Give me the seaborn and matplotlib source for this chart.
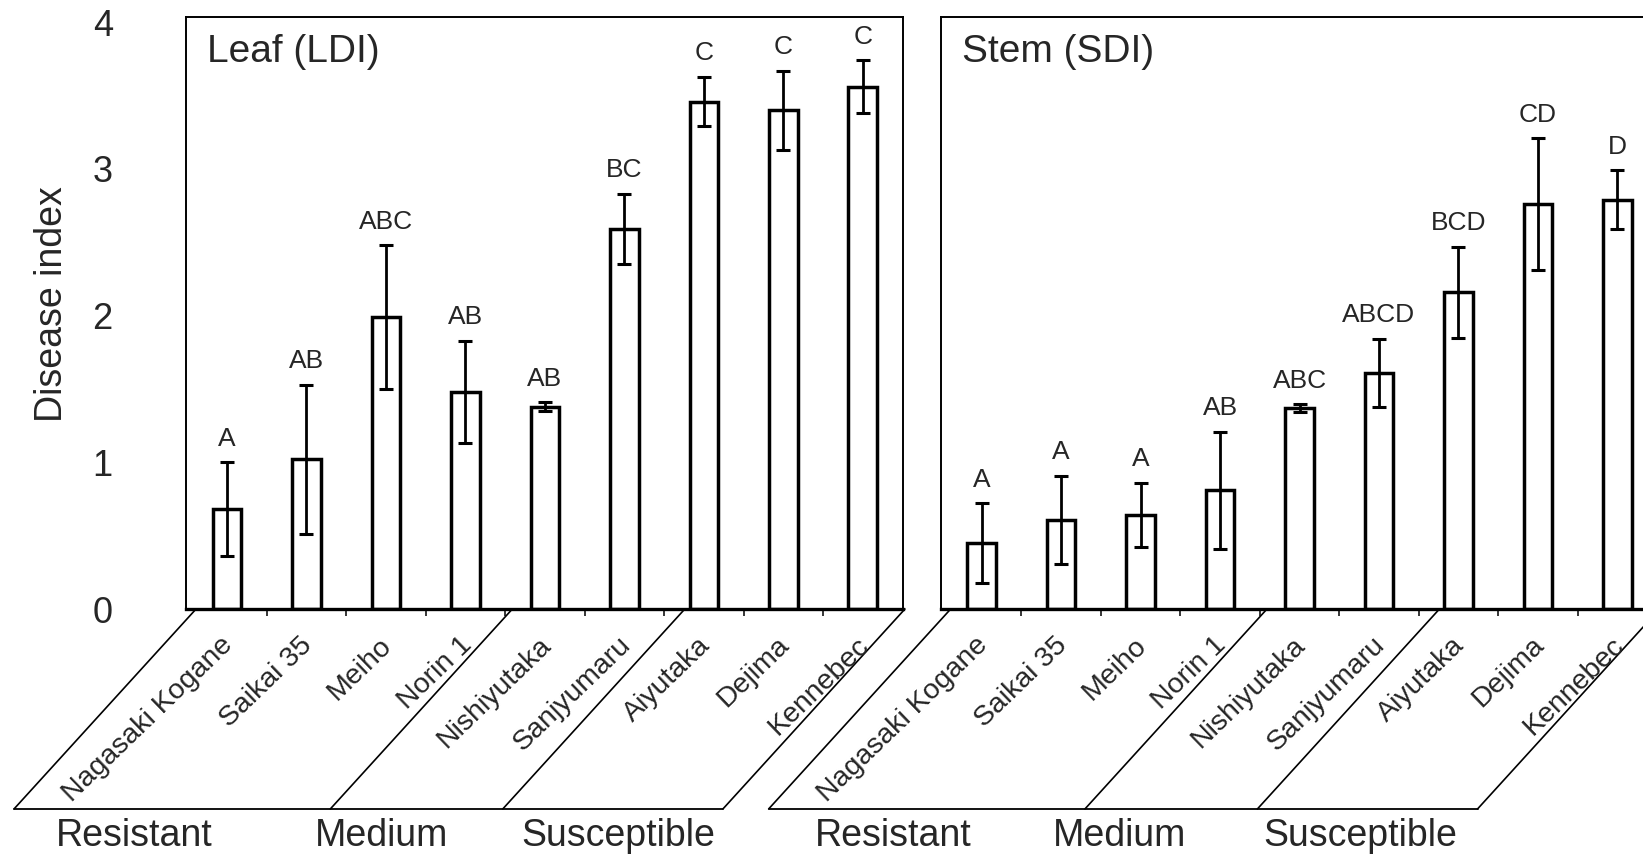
import matplotlib
matplotlib.use("Agg")
import matplotlib.pyplot as plt
import seaborn as sns
import pandas as pd
import numpy as np

# ---- data ----
cultivars = ["Nagasaki Kogane", "Saikai 35", "Meiho", "Norin 1", "Nishiyutaka",
             "Sanjyumaru", "Aiyutaka", "Dejima", "Kennebec"]
leaf_values = [0.68, 1.02, 1.99, 1.48, 1.38, 2.59, 3.46, 3.40, 3.56]
leaf_errors = [0.32, 0.51, 0.49, 0.35, 0.03, 0.24, 0.17, 0.27, 0.18]
leaf_letters = ["A", "AB", "ABC", "AB", "AB", "BC", "C", "C", "C"]
stem_values = [0.45, 0.61, 0.64, 0.81, 1.37, 1.61, 2.16, 2.76, 2.79]
stem_errors = [0.27, 0.30, 0.22, 0.40, 0.025, 0.23, 0.31, 0.45, 0.20]
stem_letters = ["A", "A", "A", "AB", "ABC", "ABCD", "BCD", "CD", "D"]
group_names = ["Resistant", "Medium", "Susceptible"]
panel_titles = ["Leaf (LDI)", "Stem (SDI)"]
y_ticks = [0, 1, 2, 3, 4]
y_label = "Disease index"

sns.set_theme(style="white")
plt.rcParams['font.family'] = ['Liberation Sans', 'DejaVu Sans']

W, H = 1643, 859
fig = plt.figure(figsize=(W / 100, H / 100), dpi=100)

ax_w = 0.4363
ax_b = 0.291
ax_h = 0.980 - ax_b
axes = [fig.add_axes([0.1135, ax_b, ax_w, ax_h]),
        fig.add_axes([0.5728, ax_b, ax_w, ax_h])]

XL = (-0.51, 8.51)
SEP_X = [-0.39, 3.59, 5.76, 8.53]   # where the slanted separators meet the axis
DX, DY = 2.29, 1.363                # slant of separators (data units)
group_label_x = [[-1.17, 1.95, 4.92], [-1.11, 1.73, 4.76]]

panels = [(leaf_values, leaf_errors, leaf_letters), (stem_values, stem_errors, stem_letters)]
for k, (ax, (vals, errs, letters)) in enumerate(zip(axes, panels)):
    df = pd.DataFrame({"cultivar": cultivars, "value": vals})
    sns.barplot(data=df, x="cultivar", y="value", order=cultivars, ax=ax,
                color="white", saturation=1, edgecolor="black", linewidth=2.5,
                width=0.36, errorbar=None)
    xs = np.arange(len(cultivars))
    ax.errorbar(xs, vals, yerr=errs, fmt="none", ecolor="black",
                elinewidth=2.0, capsize=5, capthick=2.2, zorder=5)
    for x, v, e, t in zip(xs, vals, errs, letters):
        ax.annotate(t, (x, v + e), xytext=(0, 12), textcoords="offset points",
                    ha="center", va="baseline", fontsize=19)
    ax.set_xlim(*XL)
    ax.set_ylim(0, 4.035)
    ax.set_xlabel("")
    ax.set_ylabel("")
    ax.set_yticks(y_ticks)
    if k == 0:
        ax.set_yticklabels([str(t) for t in y_ticks], fontsize=26)
        ax.tick_params(axis="y", pad=53, length=0)
    else:
        ax.set_yticklabels([])
        ax.tick_params(axis="y", length=0)
    ax.set_xticks(xs)
    ax.set_xticklabels([])
    ax.tick_params(axis="x", which="major", length=0)
    ax.set_xticks(xs[:-1] + 0.5, minor=True)
    ax.tick_params(axis="x", which="minor", direction="out", length=5, width=1.1,
                   color="black", bottom=True)
    for s in ax.spines.values():
        s.set_color("black")
        s.set_linewidth(1.4)
    ax.spines["bottom"].set_linewidth(2.4)
    ax.text(0.029, 0.941, panel_titles[k], transform=ax.transAxes,
            fontsize=28, ha="left", va="center")
    # rotated cultivar labels
    for x, name in zip(xs, cultivars):
        ax.text(x + 0.09, -0.255, name, rotation=44, rotation_mode="anchor",
                ha="right", va="baseline", fontsize=20.5, clip_on=False)
    # slanted group separators
    for xb in SEP_X:
        ax.plot([xb, xb - DX], [0, -DY], color="black", lw=1.2, clip_on=False)
    ax.plot([SEP_X[0] - DX, SEP_X[-1] - DX], [-DY, -DY], color="black", lw=1.3,
            clip_on=False)
    for gx, gname in zip(group_label_x[k], group_names):
        ax.text(gx, -1.55, gname, fontsize=27, ha="center", va="center", clip_on=False)

fig.text(52 / W, 1 - 304 / H, y_label, rotation=90, fontsize=27, ha="center", va="center")

fig.savefig("out.png", dpi=100, facecolor="white")
